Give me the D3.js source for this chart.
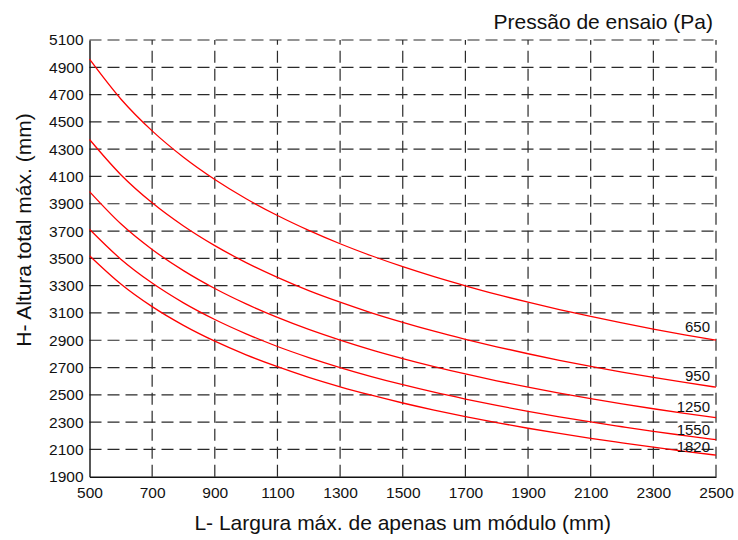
<!DOCTYPE html>
<html>
<head>
<meta charset="utf-8">
<script src="https://cdn.jsdelivr.net/npm/d3@7"></script>
<style>
  body { margin: 0; background: #fff; }
  svg { display: block; }
  text { font-family: "Liberation Sans", Arial, sans-serif; fill: #111; }
</style>
</head>
<body>
<svg id="chart" width="738" height="540"></svg>
<script>
// Data
const widths = [500, 600, 700, 800, 900, 1000, 1100, 1200, 1300, 1400, 1500,
                1600, 1700, 1800, 1900, 2000, 2100, 2200, 2300, 2400, 2500];
const pressures = ["650", "950", "1250", "1550", "1820"];
const h650  = [4960, 4668, 4434, 4241, 4078, 3937, 3814, 3705, 3607, 3519, 3439,
               3366, 3299, 3236, 3179, 3125, 3074, 3027, 2982, 2940, 2901];
const h950  = [4371, 4113, 3907, 3737, 3593, 3469, 3361, 3264, 3179, 3101, 3031,
               2966, 2907, 2852, 2801, 2753, 2709, 2667, 2628, 2591, 2556];
const h1250 = [3989, 3753, 3565, 3410, 3279, 3166, 3067, 2979, 2901, 2830, 2766,
               2707, 2653, 2603, 2556, 2513, 2472, 2434, 2398, 2364, 2333];
const h1550 = [3713, 3494, 3319, 3174, 3052, 2947, 2854, 2773, 2700, 2634, 2574,
               2519, 2469, 2422, 2379, 2339, 2301, 2266, 2232, 2201, 2171];
const h1820 = [3519, 3312, 3146, 3009, 2893, 2793, 2706, 2628, 2559, 2497, 2440,
               2388, 2340, 2296, 2255, 2217, 2181, 2148, 2116, 2086, 2058];
const xTicks = [500, 700, 900, 1100, 1300, 1500, 1700, 1900, 2100, 2300, 2500];
const yTicks = [1900, 2100, 2300, 2500, 2700, 2900, 3100, 3300, 3500, 3700,
                3900, 4100, 4300, 4500, 4700, 4900, 5100];
const xTitle = "L- Largura máx. de apenas um módulo (mm)";
const yTitle = "H- Altura total máx. (mm)";
const legendTitle = "Pressão de ensaio (Pa)";

const seriesList = [h650, h950, h1250, h1550, h1820];

const svg = d3.select("#chart");
const mLeft = 89.5, mRight = 716, mTop = 40, mBottom = 476.7;

const x = d3.scaleLinear().domain([500, 2500]).range([mLeft, mRight]);
const y = d3.scaleLinear().domain([1900, 5100]).range([mBottom, mTop]);

const gridColor = "#2a2a2a";
const dash = "12,6";

// vertical grid lines (drawn bottom to top)
svg.append("g").selectAll("line").data(xTicks.slice(1)).join("line")
  .attr("x1", d => x(d)).attr("x2", d => x(d))
  .attr("y1", mBottom).attr("y2", mTop)
  .attr("stroke", gridColor).attr("stroke-width", 1.2)
  .attr("stroke-dasharray", dash);

// horizontal grid lines (drawn left to right)
svg.append("g").selectAll("line").data(yTicks.slice(1)).join("line")
  .attr("x1", mLeft).attr("x2", mRight)
  .attr("y1", d => y(d)).attr("y2", d => y(d))
  .attr("stroke", gridColor).attr("stroke-width", 1.2)
  .attr("stroke-dasharray", dash);

// axes
const xAxis = d3.axisBottom(x).tickValues(xTicks).tickSize(0).tickPadding(10)
  .tickFormat(d3.format("d"));
const gx = svg.append("g").attr("transform", `translate(0,${mBottom})`).call(xAxis);
gx.select(".domain").attr("stroke", "#111").attr("stroke-width", 1.4);
gx.selectAll(".tick text").attr("font-size", 15.5).attr("fill", "#111")
  .attr("font-family", "Liberation Sans, Arial, sans-serif");

const yAxis = d3.axisLeft(y).tickValues(yTicks).tickSize(0).tickPadding(6)
  .tickFormat(d3.format("d"));
const gy = svg.append("g").attr("transform", `translate(${mLeft},0)`).call(yAxis);
gy.select(".domain").attr("stroke", "#111").attr("stroke-width", 1.4);
gy.selectAll(".tick text").attr("font-size", 15.5).attr("fill", "#111")
  .attr("font-family", "Liberation Sans, Arial, sans-serif");

// curves
const line = d3.line().x((d, i) => x(widths[i])).y(d => y(d)).curve(d3.curveMonotoneX);
svg.append("g").selectAll("path").data(seriesList).join("path")
  .attr("d", d => line(d))
  .attr("fill", "none").attr("stroke", "#ff0000").attr("stroke-width", 1.3);

// curve labels near right end
const labelDy = [-8, -6, -6, -5, -3];
svg.append("g").selectAll("text").data(seriesList).join("text")
  .attr("x", mRight - 6)
  .attr("y", (d, i) => y(d[d.length - 1]) + labelDy[i])
  .attr("text-anchor", "end")
  .attr("font-size", 15)
  .text((d, i) => pressures[i]);

// titles
svg.append("text").attr("x", (mLeft + mRight) / 2).attr("y", 530)
  .attr("text-anchor", "middle").attr("font-size", 21).text(xTitle);
svg.append("text").attr("transform", `translate(31,230) rotate(-90)`)
  .attr("text-anchor", "middle").attr("font-size", 21).text(yTitle);
svg.append("text").attr("x", 713).attr("y", 29)
  .attr("text-anchor", "end").attr("font-size", 21).text(legendTitle);
</script>
</body>
</html>
